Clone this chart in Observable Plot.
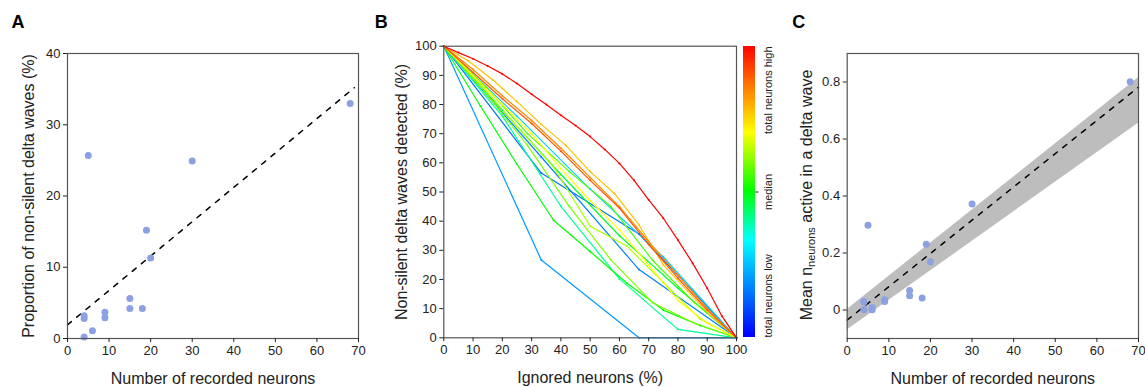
<!DOCTYPE html>
<html><head><meta charset="utf-8">
<script src="https://cdn.jsdelivr.net/npm/d3@7"></script>
<script src="https://cdn.jsdelivr.net/npm/@observablehq/plot@0.6"></script>
<style>
body{margin:0;background:#fff}
#wrap{position:relative;width:1145px;height:387px;overflow:hidden}
#wrap svg{position:absolute;top:0}
</style>
</head><body><div id="wrap"></div>
<script>
// ---------- DATA ----------
// Panel A
const recordedNeuronsA = [4, 4, 4, 5, 6, 9, 9, 15, 15, 18, 19, 20, 30, 68];
const nonSilentPctA    = [3.2, 2.8, 0.2, 25.7, 1.1, 3.7, 2.9, 5.6, 4.2, 4.2, 15.2, 11.3, 24.9, 33.0];
const fitAX = [0, 69];
const fitAY = [1.92, 35.2];
const xTicks70 = [0, 10, 20, 30, 40, 50, 60, 70];
const yTicksA = [0, 10, 20, 30, 40];

// Panel B (ignored neurons % -> detected %), one array per recording, with colour level (rank)
const lineRed     = [[0,100],[5,97.8],[10,95.7],[15,93.2],[20,90.5],[25,87.2],[30,83.5],[35,80],[40,76.3],[45,72.8],[50,69],[55,64.6],[60,59.8],[65,54],[70,47.3],[75,41],[80,33.5],[85,25.6],[90,17],[95,7.5],[100,0]];
const lineOrRed   = [[0,100],[10,91],[20,82],[30,73.5],[40,64],[50,54],[60,44.5],[70,32],[80,20.5],[90,9.5],[100,0]];
const lineOrange  = [[0,100],[10,92],[20,83],[30,74.5],[40,65],[50,55],[60,45],[70,33],[80,21.5],[90,10],[100,0]];
const lineGold    = [[0,100],[8.3,95],[16.7,88.5],[25,81],[33.3,73.2],[41.7,66],[50,57],[58.3,49.5],[66.7,38.7],[75,25],[83.3,16],[91.7,7],[100,0]];
const lineYellow  = [[0,100],[10,90],[20,80],[30,70],[40,58],[50,47],[60,37],[70,25],[80,12.8],[90,5],[100,0]];
const lineYGreen  = [[0,100],[12.5,87],[25,72.5],[37.5,58.5],[50,38.3],[62.5,31.5],[75,19],[87.5,6.5],[100,0]];
const lineChart   = [[0,100],[14.3,84],[28.6,66],[42.9,45],[57.1,26.7],[71.4,12],[85.7,5],[100,0]];
const lineLGreen  = [[0,100],[14.3,86],[28.6,70],[42.9,57],[57.1,45],[71.4,26.5],[85.7,12],[100,0]];
const lineGreen   = [[0,100],[12.5,79.5],[25,59.5],[37.5,40.3],[50,29.6],[62.5,18.8],[75,9.5],[87.5,4.2],[100,0]];
const lineGreen2  = [[0,100],[20,78],[40,56],[60,35],[80,17],[100,0]];
const lineTeal    = [[0,100],[20,76],[40,45.1],[60,20.2],[80,2.9],[100,0]];
const lineCyan    = [[0,100],[25,76],[50,51],[75,27.7],[100,0]];
const lineBlue1   = [[0,100],[33.3,56.5],[66.7,35.6],[100,0]];
const lineBlue2   = [[0,100],[33.3,62],[66.7,23.4],[100,0]];
const lineLBlue   = [[0,100],[33.3,26.7],[66.7,0],[100,0]];
const seriesB = [
  {pts: lineBlue1, level: 0.15}, {pts: lineBlue2, level: 0.17}, {pts: lineLBlue, level: 0.2},
  {pts: lineCyan, level: 0.27}, {pts: lineTeal, level: 0.4}, {pts: lineGreen2, level: 0.47},
  {pts: lineGreen, level: 0.5}, {pts: lineLGreen, level: 0.56}, {pts: lineChart, level: 0.6},
  {pts: lineYGreen, level: 0.64}, {pts: lineYellow, level: 0.7}, {pts: lineGold, level: 0.77},
  {pts: lineOrange, level: 0.84}, {pts: lineOrRed, level: 0.9}, {pts: lineRed, level: 1.0}
];
const ticksPct = [0, 10, 20, 30, 40, 50, 60, 70, 80, 90, 100];

// Colour bar (jet)
const jetStops  = [0, 0.33, 0.5, 0.7, 1];
const jetColors = ["#0000ff", "#00ffff", "#00ff00", "#ffff00", "#ff0000"];
const cbLabels  = ["total neurons low", "median", "total neurons high"];
const cbLabelAt = [0, 0.5, 1];
const cbAnchor  = ["start", "middle", "end"];

// Panel C
const recordedNeuronsC = [4, 4, 4, 5, 6, 6, 9, 9, 15, 15, 18, 19, 20, 30, 68];
const meanActiveC      = [0.030, 0.028, 0.001, 0.297, 0.009, 0.001, 0.036, 0.030, 0.068, 0.050, 0.042, 0.231, 0.169, 0.372, 0.801];
const fitCX = [0, 70];
const fitCY = [-0.035, 0.782];
const bandCLow  = [-0.07, 0.655];
const bandCHigh = [0.002, 0.815];
const yTicksC = [0, 0.2, 0.4, 0.6, 0.8];

// ---------- RENDER ----------
const FONT = "'Liberation Sans', Arial, Helvetica, sans-serif";
const style = {fontFamily: FONT, fontSize: "13px", color: "#222", background: "transparent", overflow: "visible"};
const wrap = document.getElementById("wrap");
const dotColor = "#8ba1e2";
const dash = "5,7";
const LAB = 16;
const jetScale = d3.scaleLinear().domain(jetStops).range(jetColors).clamp(true);
const colorOpt = {type: "linear", domain: [0, 1], interpolate: t => jetScale(t)};

function place(svg, left) { svg.style.left = left + "px"; wrap.appendChild(svg); return svg; }
const yLabel = (t, dx) => Plot.text([t], {frameAnchor: "left", dx, rotate: -90, textAnchor: "middle", lineAnchor: "middle", fontSize: LAB});
const xLabel = (t) => Plot.text([t], {frameAnchor: "bottom", dy: 40, textAnchor: "middle", lineAnchor: "middle", fontSize: LAB});
const letter = (t, dx, dy) => Plot.text([t], {frameAnchor: "top-left", dx, dy, textAnchor: "start", lineAnchor: "top", fontSize: 18, fontWeight: "bold", fill: "#000"});

// Panel A
const rowsA = recordedNeuronsA.map((n, i) => ({n, p: nonSilentPctA[i]}));
const fitA = fitAX.map((x, i) => ({x, y: fitAY[i]}));
place(Plot.plot({
  width: 380, height: 387, marginLeft: 67, marginRight: 22, marginTop: 53, marginBottom: 49,
  style,
  x: {domain: [0, 70]}, y: {domain: [0, 40]},
  marks: [
    Plot.line(fitA, {x: "x", y: "y", stroke: "#000", strokeWidth: 1.5, strokeDasharray: dash}),
    Plot.dot(rowsA, {x: "n", y: "p", r: 3.5, fill: dotColor}),
    Plot.frame({stroke: "#555", strokeWidth: 1.2}),
    Plot.axisX(xTicks70, {tickSize: 4, tickPadding: 3, label: null}),
    Plot.axisY(yTicksA, {tickSize: 4, tickPadding: 3, label: null}),
    xLabel("Number of recorded neurons"),
    yLabel("Proportion of non-silent delta waves (%)", -39),
    letter("A", -56, -38)
  ]
}), 0);

// Panel B
const rowsB = seriesB.flatMap((s, k) => s.pts.map(([x, y]) => ({x, y, id: k, level: s.level})));
place(Plot.plot({
  width: 360, height: 387, marginLeft: 63.3, marginRight: 4, marginTop: 45.7, marginBottom: 49.7,
  style,
  x: {domain: [0, 100]}, y: {domain: [0, 100]},
  color: colorOpt,
  marks: [
    Plot.line(rowsB, {x: "x", y: "y", z: "id", stroke: "level", strokeWidth: 1.2}),
    Plot.dot(rowsB, {x: "x", y: "y", r: 1, fill: "level"}),
    Plot.frame({stroke: "#555", strokeWidth: 1.2}),
    Plot.axisX(ticksPct, {tickSize: 4, tickPadding: 3, label: null}),
    Plot.axisY(ticksPct, {tickSize: 4, tickPadding: 3, label: null}),
    xLabel("Ignored neurons (%)"),
    yLabel("Non-silent delta waves detected (%)", -42),
    letter("B", -69, -31)
  ]
}), 380);

// Colour bar
const cbSteps = d3.range(0, 1, 0.005);
const cbText = cbLabels.map((t, i) => ({t, y: cbLabelAt[i], a: cbAnchor[i]}));
place(Plot.plot({
  width: 45, height: 387, marginLeft: 0.7, marginRight: 32, marginTop: 46, marginBottom: 50,
  style,
  x: {domain: [0, 1], axis: null}, y: {domain: [0, 1], axis: null},
  color: colorOpt,
  marks: [
    Plot.rect(cbSteps, {x1: 0, x2: 1, y1: d => d, y2: d => d + 0.0055, fill: d => d, shapeRendering: "crispEdges"}),
    Plot.ruleY([0.5], {x1: 1, x2: 1.3, stroke: "#333"}),
    ...["start", "middle", "end"].map(a => Plot.text(cbText.filter(d => d.a === a), {y: "y", text: "t", frameAnchor: "right", dx: 13, rotate: -90, textAnchor: a, lineAnchor: "middle", fontSize: 11}))
  ]
}), 742);

// Panel C
const rowsC = recordedNeuronsC.map((n, i) => ({n, m: meanActiveC[i]}));
const fitC = fitCX.map((x, i) => ({x, y: fitCY[i], lo: bandCLow[i], hi: bandCHigh[i]}));
const svgC = place(Plot.plot({
  width: 365, height: 387, marginLeft: 66.7, marginRight: 7, marginTop: 53, marginBottom: 49,
  style,
  x: {domain: [0, 70]}, y: {domain: [-0.1, 0.9]},
  marks: [
    Plot.areaY(fitC, {x: "x", y1: "lo", y2: "hi", fill: "#bdbdbd"}),
    Plot.line(fitC, {x: "x", y: "y", stroke: "#000", strokeWidth: 1.5, strokeDasharray: dash}),
    Plot.dot(rowsC, {x: "n", y: "m", r: 3.5, fill: dotColor}),
    Plot.frame({stroke: "#555", strokeWidth: 1.2}),
    Plot.axisX(xTicks70, {tickSize: 4, tickPadding: 3, label: null}),
    Plot.axisY(yTicksC, {tickSize: 4, tickPadding: 3, label: null, tickFormat: d => d === 0 ? "0" : d.toFixed(1)}),
    xLabel("Number of recorded neurons"),
    letter("C", -55, -38)
  ]
}), 780);

// y label for C with subscript
const lab = d3.select(svgC).append("text")
  .attr("transform", "translate(28,195) rotate(-90)")
  .attr("text-anchor", "middle")
  .attr("font-family", FONT).attr("font-size", LAB).attr("fill", "#222")
  .attr("dominant-baseline", "middle");
lab.append("tspan").text("Mean n");
lab.append("tspan").attr("font-size", 11).attr("dy", 4).text("neurons");
lab.append("tspan").attr("dy", -4).text(" active in a delta wave");
</script></body></html>
